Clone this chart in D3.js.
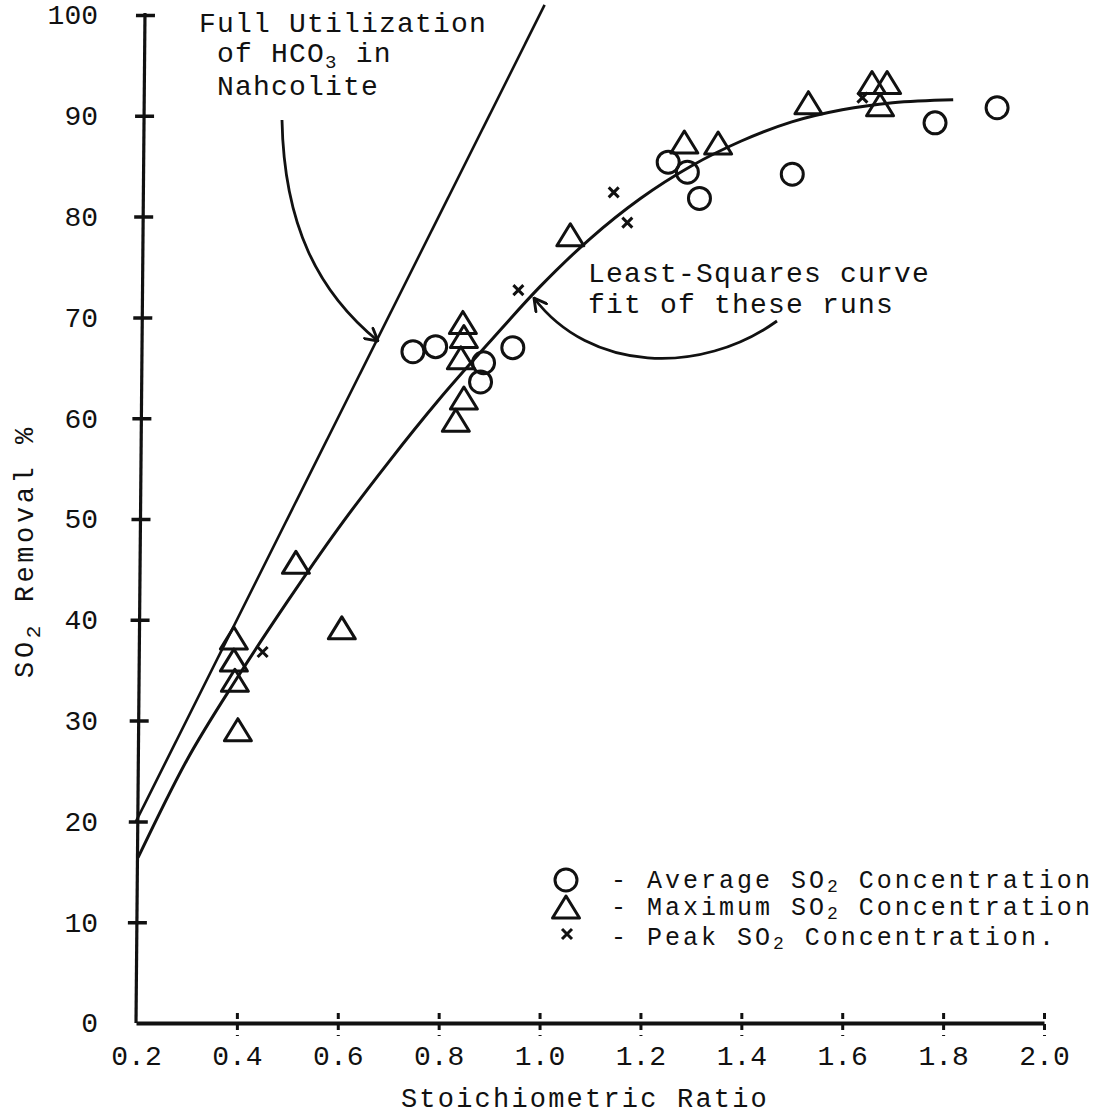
<!DOCTYPE html>
<html>
<head>
<meta charset="utf-8">
<script src="https://cdn.jsdelivr.net/npm/d3@7"></script>
<style>
  body { margin: 0; background: #fff; }
  svg { display: block; background: #fff; }
  text { font-family: "Liberation Mono", "DejaVu Sans Mono", monospace; fill: #111; }
</style>
</head>
<body>
<svg id="chart" width="1119" height="1117"></svg>
<script>
// Axis ticks
const xTickValues = [0.2, 0.4, 0.6, 0.8, 1.0, 1.2, 1.4, 1.6, 1.8, 2.0];
const yTickValues = [0, 10, 20, 30, 40, 50, 60, 70, 80, 90, 100];

// Average SO2 concentration runs (circles)
const avgRatio   = [0.749, 0.794, 0.883, 0.889, 0.947, 1.255, 1.293, 1.317, 1.501, 1.784, 1.907];
const avgRemoval = [66.6, 67.1, 63.6, 65.5, 67.0, 85.4, 84.4, 81.8, 84.2, 89.3, 90.8];

// Maximum SO2 concentration runs (triangles)
const maxRatio   = [0.394, 0.394, 0.396, 0.402, 0.517, 0.608, 0.848, 0.850, 0.844, 0.850, 0.834, 1.061, 1.287, 1.354, 1.533, 1.659, 1.689, 1.675];
const maxRemoval = [38.2, 36.0, 34.0, 29.1, 45.7, 39.2, 69.5, 68.1, 66.0, 62.0, 59.8, 78.2, 87.4, 87.3, 91.3, 93.3, 93.3, 91.1];

// Peak SO2 concentration runs (crosses)
const peakRatio   = [0.451, 0.958, 1.147, 1.174, 1.640];
const peakRemoval = [36.8, 72.7, 82.4, 79.4, 91.8];

// Least-squares curve through the runs
const fitRatio   = [0.204, 0.30, 0.40, 0.50, 0.60, 0.70, 0.80, 0.90, 1.00, 1.10, 1.20, 1.30, 1.40, 1.50, 1.60, 1.70, 1.82];
const fitRemoval = [16.4, 26.0, 34.2, 41.8, 49.0, 55.6, 61.8, 67.5, 73.0, 77.8, 81.8, 85.0, 87.5, 89.4, 90.6, 91.3, 91.6];

// Full utilization of HCO3 line
const fullRatio   = [0.2, 1.01];
const fullRemoval = [20, 101];

const ink = "#111";
const svg = d3.select("#chart");

const x = d3.scaleLinear().domain([0.2, 2.0]).range([136, 1044]);
const y = d3.scaleLinear().domain([0, 100]).range([1023, 15]);

// ---------- x axis ----------
const gx = svg.append("g")
  .attr("transform", "translate(0,1023)")
  .call(d3.axisBottom(x).tickValues(xTickValues).tickFormat(d3.format(".1f"))
    .tickSize(0).tickSizeOuter(0).tickPadding(22));
gx.select(".domain").attr("stroke", ink).attr("stroke-width", 4);
gx.selectAll(".tick text").attr("font-size", 28).attr("fill", ink)
  .attr("font-family", "'Liberation Mono', monospace");
gx.selectAll(".tick").filter(d => d > 0.2).append("line")
  .attr("y1", -10).attr("y2", 13)
  .attr("stroke", ink).attr("stroke-width", 3)
  .attr("stroke-dasharray", "6,5");

svg.append("text")
  .attr("x", 585).attr("y", 1107)
  .attr("text-anchor", "middle")
  .attr("font-size", 27).attr("letter-spacing", 2.2)
  .text("Stoichiometric Ratio");

// ---------- y axis: labels ----------
const gyLab = svg.append("g")
  .attr("transform", "translate(98,0)")
  .call(d3.axisLeft(y).tickValues(yTickValues).tickSize(0).tickPadding(0));
gyLab.select(".domain").remove();
gyLab.selectAll(".tick text").attr("font-size", 28).attr("fill", ink);

// ---------- y axis: hand-ruled line with cross ticks ----------
const gy = svg.append("g")
  .attr("transform", "translate(136,1023) skewX(-0.51) translate(0,-1023)")
  .call(d3.axisLeft(y).tickValues(yTickValues.filter(d => d > 0))
    .tickSize(0).tickSizeOuter(0).tickFormat(""));
gy.select(".domain").attr("stroke", ink).attr("stroke-width", 3.2)
  .attr("d", `M0,${y(0)}V${y(100) - 2}`);
gy.selectAll(".tick line").attr("x1", -9).attr("x2", 10)
  .attr("stroke", ink).attr("stroke-width", 3.5);

// y axis title
const yTitle = svg.append("text")
  .attr("transform", "translate(33,551) rotate(-90)")
  .attr("text-anchor", "middle")
  .attr("font-size", 27).attr("letter-spacing", 3.6);
yTitle.append("tspan").text("SO");
yTitle.append("tspan").attr("dy", 7).attr("font-size", 21).text("2");
yTitle.append("tspan").attr("dy", -7).text(" Removal %");

// ---------- lines ----------
const fullLine = d3.line().x(d => x(d[0])).y(d => y(d[1]));
svg.append("path")
  .datum(d3.zip(fullRatio, fullRemoval))
  .attr("d", fullLine)
  .attr("fill", "none").attr("stroke", ink).attr("stroke-width", 2.6);

const fitLine = d3.line().x(d => x(d[0])).y(d => y(d[1])).curve(d3.curveMonotoneX);
svg.append("path")
  .datum(d3.zip(fitRatio, fitRemoval))
  .attr("d", fitLine)
  .attr("fill", "none").attr("stroke", ink).attr("stroke-width", 3);

// ---------- markers ----------
const circleR = 11;
const triPath = "M0,-12 L13.5,10 L-13.5,10 Z";
const crossPath = "M-5,-5 L5,5 M5,-5 L-5,5";

svg.append("g").selectAll("circle")
  .data(d3.zip(avgRatio, avgRemoval))
  .join("circle")
  .attr("cx", d => x(d[0])).attr("cy", d => y(d[1]))
  .attr("r", circleR)
  .attr("fill", "none").attr("stroke", ink).attr("stroke-width", 3);

svg.append("g").selectAll("path")
  .data(d3.zip(maxRatio, maxRemoval))
  .join("path")
  .attr("transform", d => `translate(${x(d[0])},${y(d[1]) + 1})`)
  .attr("d", triPath)
  .attr("fill", "none").attr("stroke", ink).attr("stroke-width", 3)
  .attr("stroke-linejoin", "round");

svg.append("g").selectAll("path")
  .data(d3.zip(peakRatio, peakRemoval))
  .join("path")
  .attr("transform", d => `translate(${x(d[0])},${y(d[1])})`)
  .attr("d", crossPath)
  .attr("fill", "none").attr("stroke", ink).attr("stroke-width", 3);

// ---------- annotations ----------
const defs = svg.append("defs");
defs.append("marker")
  .attr("id", "arrowhead")
  .attr("viewBox", "0 0 12 12")
  .attr("refX", 11).attr("refY", 6)
  .attr("markerWidth", 16).attr("markerHeight", 16)
  .attr("markerUnits", "userSpaceOnUse")
  .attr("orient", "auto")
  .append("path")
  .attr("d", "M2,1 L11,6 L2,11")
  .attr("fill", "none").attr("stroke", ink).attr("stroke-width", 2.2)
  .attr("stroke-linecap", "round").attr("stroke-linejoin", "round");

const note = svg.append("g").attr("font-size", 28).attr("letter-spacing", 1.2);
note.append("text").attr("x", 199).attr("y", 32).text("Full Utilization");
const hco = note.append("text").attr("x", 217).attr("y", 62);
hco.append("tspan").text("of HCO");
hco.append("tspan").attr("dy", 6).attr("font-size", 19).text("3");
hco.append("tspan").attr("dy", -6).text(" in");
note.append("text").attr("x", 217).attr("y", 95).text("Nahcolite");

note.append("text").attr("x", 588).attr("y", 282).text("Least-Squares curve");
note.append("text").attr("x", 588).attr("y", 313).text("fit of these runs");

svg.append("path")
  .attr("d", "M282,120 C284,225 318,292 378,341")
  .attr("fill", "none").attr("stroke", ink).attr("stroke-width", 2.8)
  .attr("marker-end", "url(#arrowhead)");

svg.append("path")
  .attr("d", "M777,321 C700,376 590,372 534,298")
  .attr("fill", "none").attr("stroke", ink).attr("stroke-width", 2.8)
  .attr("marker-end", "url(#arrowhead)");

// ---------- legend ----------
const legendRows = [
  { sym: "circle",   label: "Average",  tail: " Concentration" },
  { sym: "triangle", label: "Maximum",  tail: " Concentration" },
  { sym: "cross",    label: "Peak",     tail: " Concentration." }
];
const legendY = [880, 907, 937];
const lg = svg.append("g");
legendRows.forEach((r, i) => {
  const cy = legendY[i];
  if (r.sym === "circle") {
    lg.append("circle").attr("cx", 566).attr("cy", cy).attr("r", circleR)
      .attr("fill", "none").attr("stroke", ink).attr("stroke-width", 3);
  } else if (r.sym === "triangle") {
    lg.append("path").attr("transform", `translate(566,${cy + 1})`).attr("d", triPath)
      .attr("fill", "none").attr("stroke", ink).attr("stroke-width", 3)
      .attr("stroke-linejoin", "round");
  } else {
    lg.append("path").attr("transform", `translate(567,${cy - 3})`).attr("d", crossPath)
      .attr("fill", "none").attr("stroke", ink).attr("stroke-width", 3);
  }
  const t = lg.append("text").attr("x", 611).attr("y", cy + 8)
    .attr("font-size", 25).attr("letter-spacing", 3.0);
  t.append("tspan").text("- " + r.label + " SO");
  t.append("tspan").attr("dy", 4).attr("font-size", 18).text("2");
  t.append("tspan").attr("dy", -4).text(r.tail);
});
</script>
</body>
</html>
